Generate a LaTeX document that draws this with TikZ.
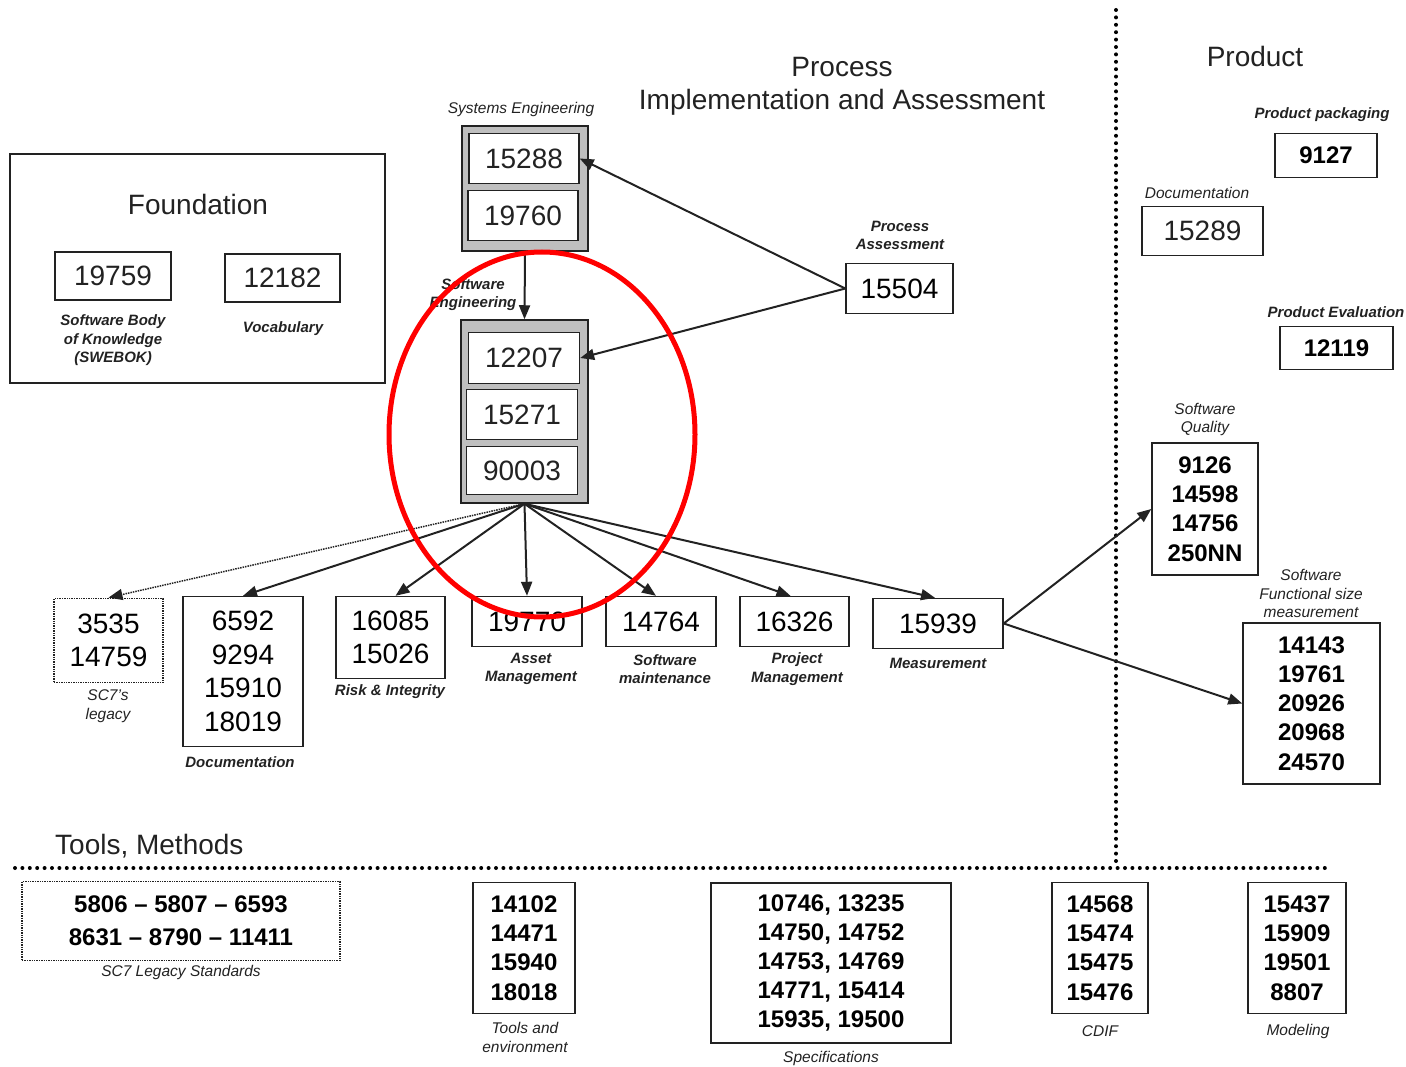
\documentclass[tikz,border=0pt]{standalone}
\usepackage{fontspec}
\setmainfont{Liberation Sans}
\usetikzlibrary{arrows.meta}
\newcommand\setfs[2]{\fontsize{#1}{#2}\selectfont}
\definecolor{ink}{HTML}{222222}
\definecolor{grp}{HTML}{BFBFBF}
\tikzset{
  frame/.style={draw=ink, line width=1.4pt, inner sep=0pt},
  numbox/.style={draw=ink, line width=1.4pt, fill=white, inner sep=0pt, align=center,
                 text=ink, font=\setfs{28}{33.5}},
  boldbox/.style={draw=ink, line width=1.4pt, fill=white, inner sep=0pt, align=center,
                  text=black, font=\setfs{24}{29.2}\bfseries},
  groupbox/.style={draw=ink, line width=1.5pt, fill=grp, inner sep=0pt},
  heading/.style={inner sep=0pt, align=center, text=ink, font=\setfs{28}{33}},
  captb/.style={inner sep=0pt, align=center, text=ink, font=\setfs{15}{18.5}\bfseries\itshape},
  captl/.style={inner sep=0pt, align=center, text=ink, font=\setfs{15.5}{18.5}\itshape},
  link/.style={draw=ink, line width=2pt, -{Triangle[length=14pt,width=11pt]}},
  finelink/.style={link, line width=1.5pt, densely dotted},
  divider/.style={draw=black, line width=4pt, line cap=round, dash pattern=on 0pt off 7.4pt},
  dotframe/.style={densely dotted, line width=1.8pt}
}
\begin{document}
\begin{tikzpicture}[x=1pt,y=-1pt]
\useasboundingbox (0,0) rectangle (1406,1067);

% ---------- Foundation ----------
\node[frame, minimum width=375pt, minimum height=229pt] (found) at (197.5,268.5) {};
\node[heading] (foundT) at (198,204) {Foundation};
\node[numbox, minimum width=116pt, minimum height=48pt] (n19759) at (113,276) {19759};
\node[numbox, minimum width=115pt, minimum height=48pt] (n12182) at (282.5,278) {12182};
\node[captb] (swebok) at (113,340.5) {Software Body\\of Knowledge\\(SWEBOK)};
\node[captb] (vocab) at (283,329) {Vocabulary};

% ---------- Process ----------
\node[heading] (procT) at (842,86.5) {Process\\Implementation and Assessment};

\node[captl] (seL) at (521,109) {Systems Engineering};
\node[groupbox, minimum width=126pt, minimum height=125pt] (se) at (525,188.5) {};
\node[numbox, minimum width=110pt, minimum height=50pt] (n15288) at (524,158.5) {15288};
\node[numbox, minimum width=110pt, minimum height=50pt] (n19760) at (523,215.5) {19760};

\node[captb] (swL) at (473,294.5) {Software\\Engineering};
\node[groupbox, minimum width=127pt, minimum height=183pt] (sw) at (524.5,411.5) {};
\node[numbox, minimum width=111pt, minimum height=51pt] (n12207) at (524,358) {12207};
\node[numbox, minimum width=111pt, minimum height=50pt] (n15271) at (522,414.5) {15271};
\node[numbox, minimum width=111pt, minimum height=48pt] (n90003) at (522,470.5) {90003};

\node[captb] (paL) at (900,235.5) {Process\\Assessment};
\node[numbox, minimum width=107pt, minimum height=50pt, text=black] (n15504) at (899.5,288.5) {15504};

% ---------- second row ----------
\node[numbox, dotframe, minimum width=109pt, minimum height=84pt, text=black] (legacy) at (108.5,640.5) {3535\\14759};
\node[captl] (legacyL) at (108,706) {SC7's\\legacy};
\node[numbox, minimum width=120pt, minimum height=150pt, text=black] (docs) at (243,671.5) {6592\\9294\\15910\\18019};
\node[captb] (docsL) at (240,762) {Documentation};
\node[numbox, minimum width=109pt, minimum height=82pt, text=black] (risk) at (390.5,637.5) {16085\\15026};
\node[captb] (riskL) at (390,692) {Risk \& Integrity};
\node[numbox, minimum width=110pt, minimum height=50pt, text=black] (asset) at (527,621.5) {19770};
\node[captb] (assetL) at (531,669) {Asset\\Management};
\node[numbox, minimum width=110pt, minimum height=50pt, text=black] (maint) at (661,621.5) {14764};
\node[captb] (maintL) at (665,669) {Software\\maintenance};
\node[numbox, minimum width=109pt, minimum height=50pt, text=black] (pm) at (794.5,621.5) {16326};
\node[captb] (pmL) at (797,669) {Project\\Management};
\node[numbox, minimum width=130pt, minimum height=50pt, text=black] (meas) at (938,623.5) {15939};
\node[captb] (measL) at (938,663) {Measurement};

% ---------- Product ----------
\node[heading] (prodT) at (1255,56) {Product};
\node[captb] (packL) at (1322,115) {Product packaging};
\node[boldbox, minimum width=102pt, minimum height=44pt] (pack) at (1326,155.5) {9127};
\node[captl] (pdocL) at (1197,193) {Documentation};
\node[numbox, minimum width=121pt, minimum height=49pt] (pdoc) at (1202.5,231) {15289};
\node[captb] (evalL) at (1336,312) {Product Evaluation};
\node[boldbox, minimum width=113pt, minimum height=43pt] (eval) at (1336.5,348) {12119};
\node[captl] (sqL) at (1205,419.5) {Software\\Quality};
\node[boldbox, minimum width=106pt, minimum height=132pt] (sq) at (1205,509) {9126\\14598\\14756\\250NN};
\node[captl] (fsmL) at (1311,593.5) {Software\\Functional size\\measurement};
\node[boldbox, minimum width=137pt, minimum height=161pt] (fsm) at (1311.5,703.5) {14143\\19761\\20926\\20968\\24570};

% ---------- Tools, Methods ----------
\node[heading, anchor=west] (toolsT) at (55,846) {Tools, Methods};
\node[boldbox, dotframe, minimum width=318pt, minimum height=79pt] (sc7) at (181,921)
  {5806 -- 5807 -- 6593\\[3.8pt]8631 -- 8790 -- 11411};
\node[captl] (sc7L) at (181,972) {SC7 Legacy Standards};
\node[boldbox, minimum width=102pt, minimum height=131pt] (tools) at (524,948) {14102\\14471\\15940\\18018};
\node[captl] (toolsL) at (525,1037.5) {Tools and\\environment};
\node[boldbox, minimum width=240pt, minimum height=160pt] (spec) at (831,963)
  {10746, 13235\\14750, 14752\\14753, 14769\\14771, 15414\\15935, 19500};
\node[captl] (specL) at (831,1058) {Specifications};
\node[boldbox, minimum width=96pt, minimum height=131pt] (cdif) at (1100,948) {14568\\15474\\15475\\15476};
\node[captl] (cdifL) at (1100,1031) {CDIF};
\node[boldbox, minimum width=98pt, minimum height=131pt] (model) at (1297,948) {15437\\15909\\19501\\8807};
\node[captl] (modelL) at (1298,1031) {Modeling};

% ---------- area dividers ----------
\draw[divider] (1116,10) -- (1116,862);
\draw[divider] (15,868) -- (1325,868);

% ---------- connectors ----------
\draw[link] (se.south) -- (sw.north);
\draw[link] (n15504.west) -- (n15288.east);
\draw[link] (n15504.west) -- (n12207.east);
\draw[finelink] (sw.south) -- (legacy.north);
\draw[link] (sw.south) -- (docs.north);
\draw[link] (sw.south) -- ([xshift=5pt]risk.north);
\draw[link] (sw.south) -- (asset.north);
\draw[link] (sw.south) -- ([xshift=-5pt]maint.north);
\draw[link] (sw.south) -- ([xshift=-4pt]pm.north);
\draw[link] (sw.south) -- ([xshift=-3pt]meas.north);
\draw[link] (meas.east) -- (sq.west);
\draw[link] (meas.east) -- (fsm.west);

% ---------- highlight ----------
\draw[red, line width=5pt] (542,434.5) ellipse [x radius=153pt, y radius=182.5pt];
\end{tikzpicture}
\end{document}
